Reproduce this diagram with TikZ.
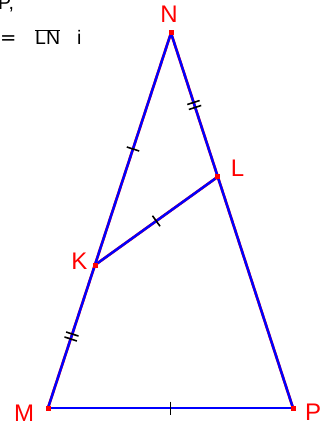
\documentclass[tikz,border=0pt]{standalone}
\usepackage{fontspec}
\setmainfont{Liberation Sans}
\newfontfamily\dejavu{DejaVu Sans}
\usetikzlibrary{calc}
\tikzset{
  redln/.style={draw=red,line width=2.7pt},
  blueln/.style={draw=blue,line width=2.4pt},
  tickst/.style={draw=black,line width=1.6pt},
  lbl/.style={text=red,font=\fontsize{24}{24}\selectfont,inner sep=0pt},
  toptxt/.style={text=black,font=\fontsize{19.5}{19.5}\selectfont,inner sep=0pt},
  ptmark/.style={fill=red}
}
\newcommand\onetick[2]{\draw[tickst] ($(#1)!0.5!(#2)!6.5pt!90:(#2)$) -- ($(#1)!0.5!(#2)!6.5pt!-90:(#2)$);}
\newcommand\twotick[2]{%
  \draw[tickst] ($(#1)!0.5!(#2)!2.6pt!(#2)!6.5pt!90:(#2)$) -- ($(#1)!0.5!(#2)!2.6pt!(#2)!6.5pt!-90:(#2)$);
  \draw[tickst] ($(#1)!0.5!(#2)!-2.6pt!(#2)!6.5pt!90:(#2)$) -- ($(#1)!0.5!(#2)!-2.6pt!(#2)!6.5pt!-90:(#2)$);}
\begin{document}
\begin{tikzpicture}[x=1pt,y=-1pt]
\useasboundingbox (0,0) rectangle (322,427);
\coordinate (N) at (171,33);
\coordinate (L) at (217.5,177);
\coordinate (K) at (95,265);
\coordinate (M) at (48,408);
\coordinate (P) at (293,408);
% lines
\foreach \a/\b in {M/N,N/P,M/P,K/L} \draw[redln] (\a) -- (\b);
\foreach \a/\b in {M/N,N/P,M/P,K/L} \draw[blueln] (\a) -- (\b);
% ticks
\onetick{K}{N}
\onetick{K}{L}
\onetick{M}{P}
\twotick{N}{L}
\twotick{M}{K}
% points
\foreach \p in {N,L,K,M,P} \fill[ptmark] ($(\p)+(-2.5,-2.5)$) rectangle ($(\p)+(2.5,2.5)$);
% labels
\node[lbl] (lN) at (169,14) {N};
\node[lbl] (lL) at (237.5,168.5) {L};
\node[lbl] (lK) at (79.5,261) {K};
\node[lbl] (lM) at (24,413.5) {M};
\node[lbl] (lP) at (313,412) {P};
% top-left text
\node[toptxt,anchor=base west] (t1) at (-2,10) {P,};
\node[toptxt,anchor=base west] (t2) at (0,45) {\dejavu =};
\node[toptxt,anchor=base west] (t3) at (35,45) {$\overline{\hbox{LN}}$};
\node[toptxt,anchor=base west] (t4) at (77,45) {i};
\end{tikzpicture}
\end{document}
